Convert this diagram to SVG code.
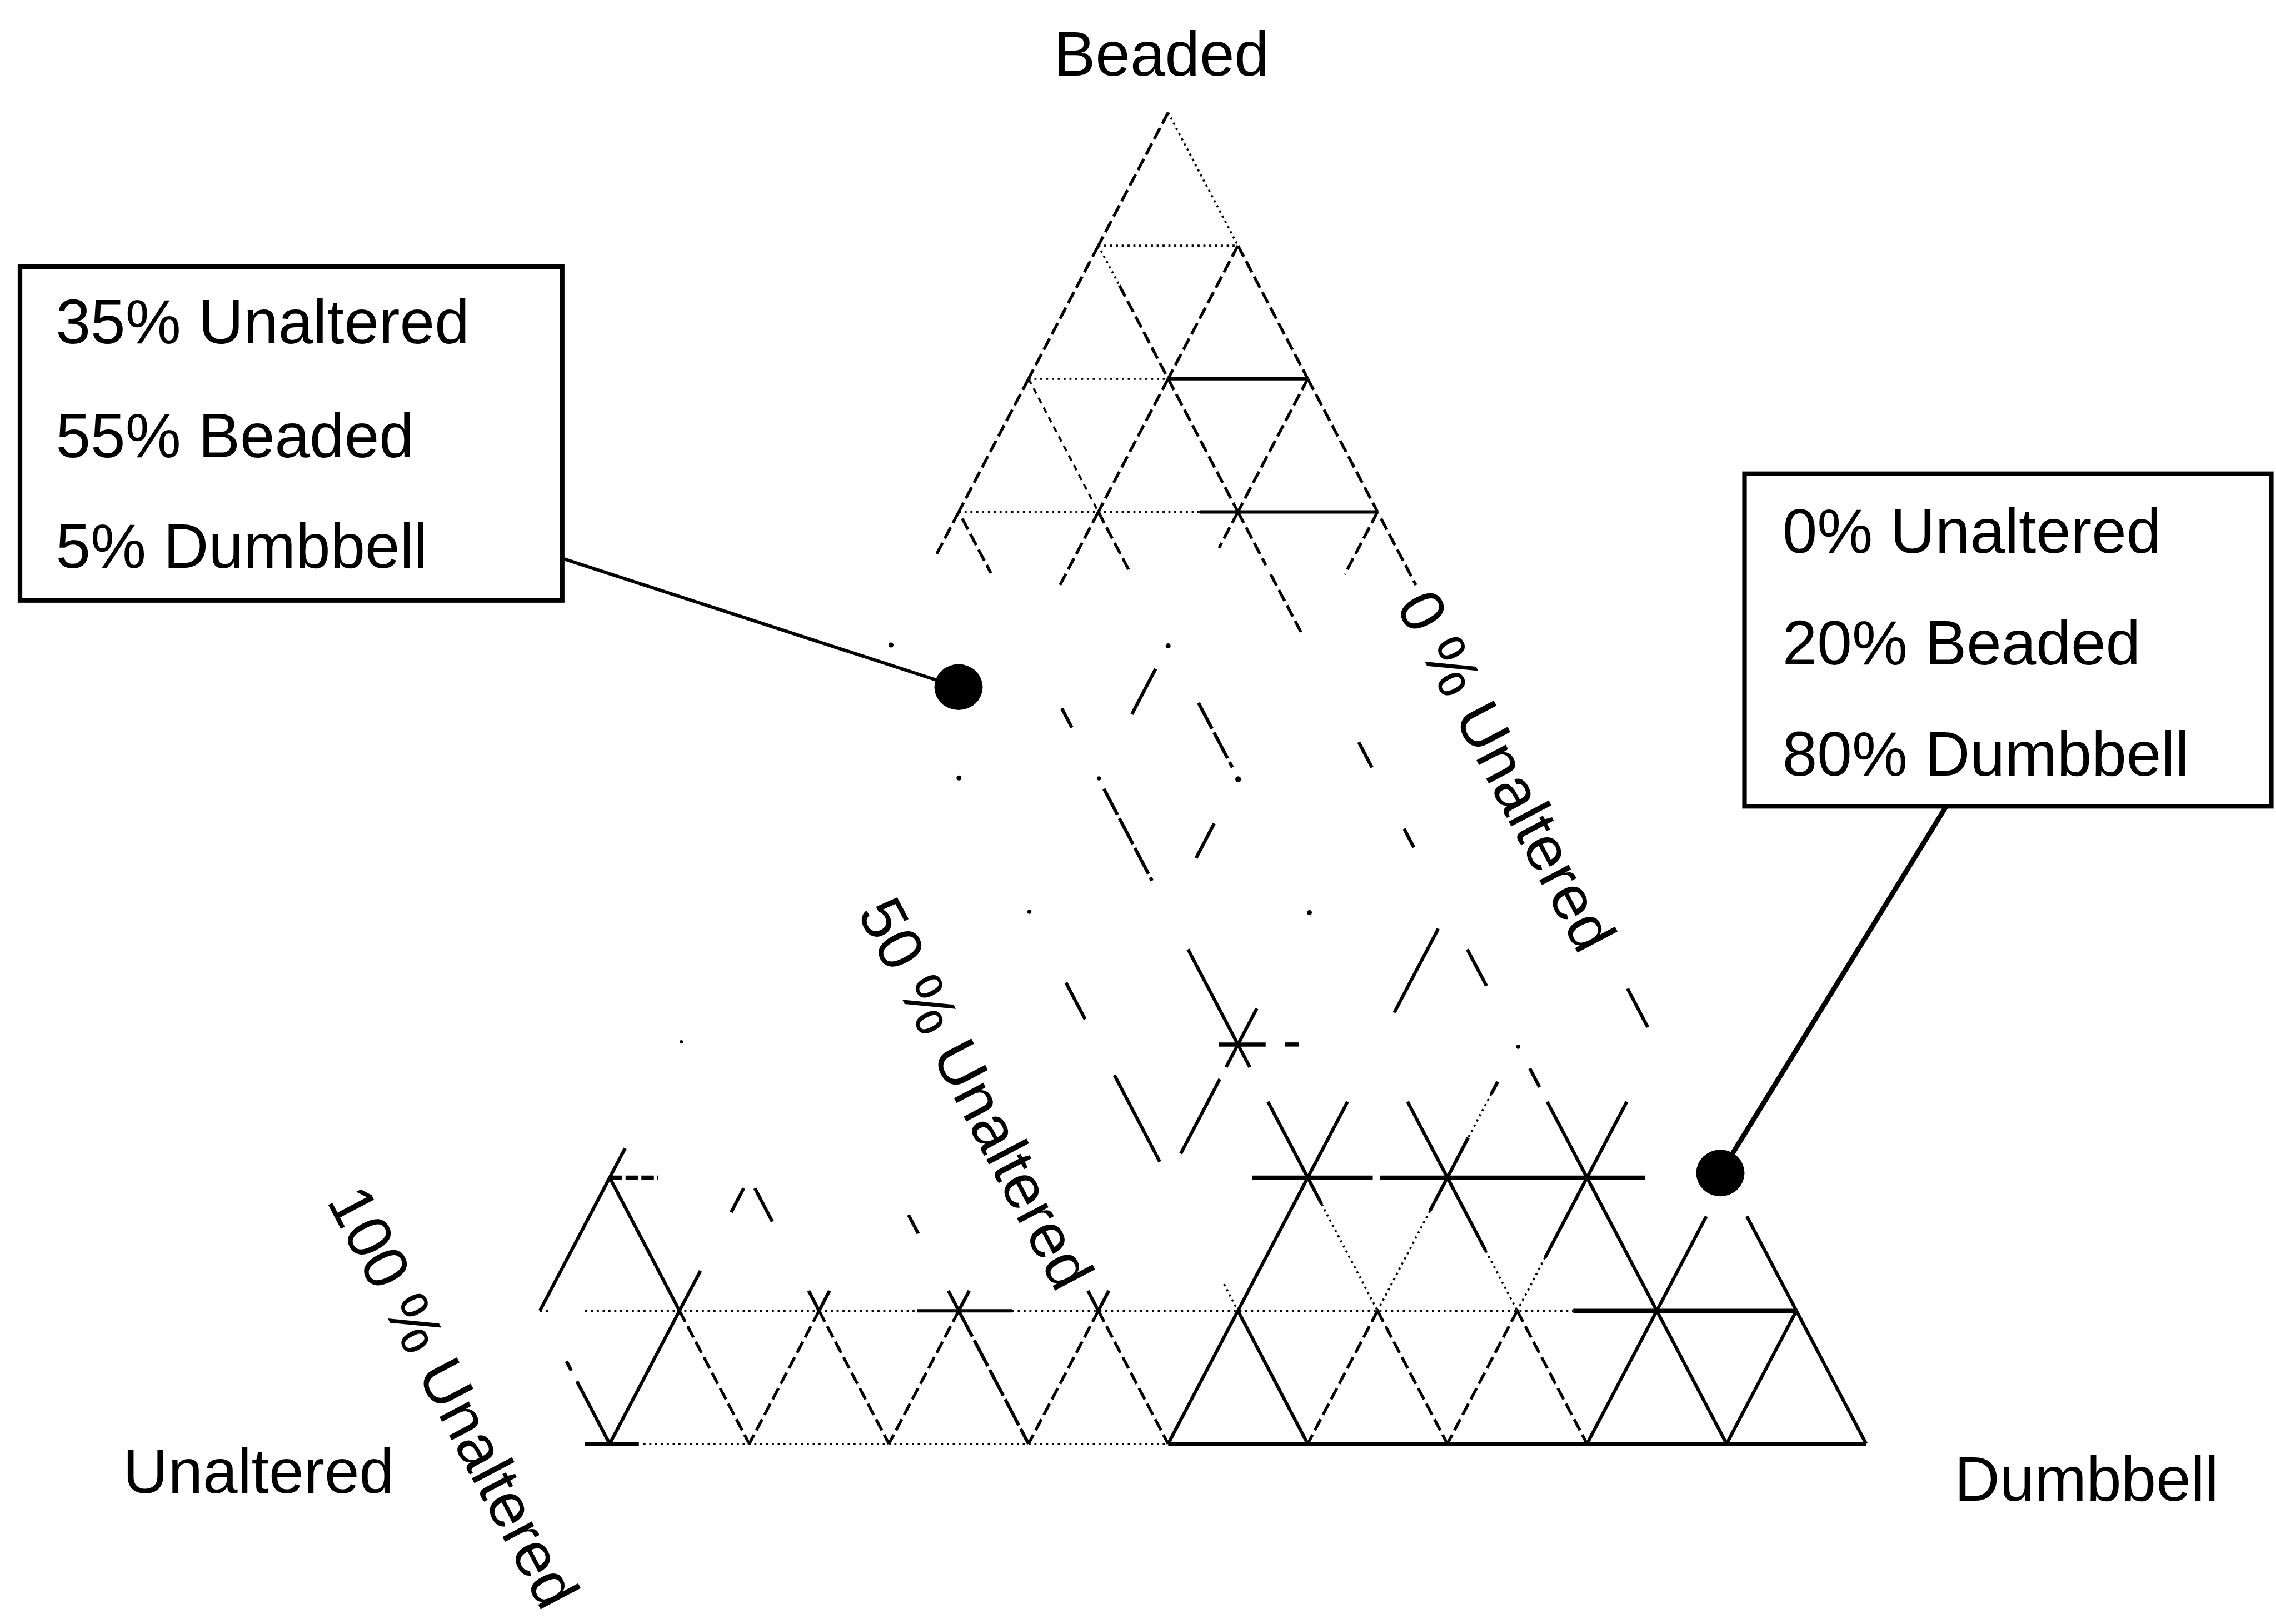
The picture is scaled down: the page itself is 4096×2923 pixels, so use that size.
<svg xmlns="http://www.w3.org/2000/svg" width="4096" height="2923" viewBox="0 0 4096 2923">
<defs>
<style>
.s{stroke:#000;stroke-width:8;fill:none}
.d{stroke:#000;stroke-width:7;fill:none;stroke-dasharray:30 12}
.t{stroke:#000;stroke-width:5;fill:none;stroke-dasharray:5 9}
.l{stroke:#000;stroke-width:5;fill:none;stroke-dasharray:14 12}
.b{stroke:#000;stroke-width:8;fill:none;stroke-dasharray:70 10}
.h{stroke:#000;stroke-width:10;fill:none}
.txt{font-family:"Liberation Sans",Arial,sans-serif;font-size:150px;fill:#000}
.box{fill:#fff;stroke:#000;stroke-width:11}
</style>
</defs>
<rect width="4096" height="2923" fill="#fff"/>
<g transform="scale(0.75)">
<g id="grid">
<line class="d" x1="2803" y1="270" x2="2635.5" y2="589.5"/>
<line class="t" x1="2803" y1="270" x2="2970.5" y2="589.5"/>
<line class="t" x1="2635.5" y1="589.5" x2="2970.5" y2="589.5"/>
<line class="d" x1="2635.5" y1="589.5" x2="2468" y2="909"/>
<line class="t" x1="2635.5" y1="589.5" x2="2686" y2="685"/>
<line class="d" x1="2686" y1="685" x2="2803" y2="909"/>
<line class="d" x1="2970.5" y1="589.5" x2="2803" y2="909"/>
<line class="d" x1="2970.5" y1="589.5" x2="3138" y2="909"/>
<line class="t" x1="2468" y1="909" x2="2803" y2="909"/>
<line class="s" x1="2803" y1="909" x2="3138" y2="909"/>
<line class="d" x1="2468" y1="909" x2="2300.5" y2="1228.5"/>
<line class="l" x1="2468" y1="909" x2="2635.5" y2="1228.5"/>
<line class="d" x1="2803" y1="909" x2="2635.5" y2="1228.5"/>
<line class="d" x1="2803" y1="909" x2="2970.5" y2="1228.5"/>
<line class="d" x1="3138" y1="909" x2="2970.5" y2="1228.5"/>
<line class="d" x1="3138" y1="909" x2="3305.5" y2="1228.5"/>
<line class="t" x1="2300.5" y1="1228.5" x2="2635.5" y2="1228.5"/>
<line class="t" x1="2635.5" y1="1228.5" x2="2880" y2="1228.5"/>
<line class="s" x1="2880" y1="1228.5" x2="2970.5" y2="1228.5"/>
<line class="s" x1="2970.5" y1="1228.5" x2="3305.5" y2="1228.5"/>
<line class="d" x1="2300.5" y1="1228.5" x2="2246.9" y2="1330.7"/>
<line class="d" x1="2308.9" y1="1244.5" x2="2377.6" y2="1375.5"/>
<line class="d" x1="2635.5" y1="1228.5" x2="2541.7" y2="1407.4"/>
<line class="d" x1="2635.5" y1="1228.5" x2="2710.9" y2="1372.3"/>
<line class="d" x1="2970.5" y1="1228.5" x2="2925.3" y2="1314.8"/>
<line class="d" x1="2970.5" y1="1228.5" x2="3037.5" y2="1356.3"/>
<line class="d" x1="3049.2" y1="1378.7" x2="3124.6" y2="1522.4"/>
<line class="d" x1="3305.5" y1="1228.5" x2="3226.8" y2="1378.7"/>
<line class="d" x1="3313.9" y1="1244.5" x2="3397.6" y2="1404.2"/>
<line class="s" x1="2772.9" y1="1605.5" x2="2715.9" y2="1714.1"/>
<line class="s" x1="2547.7" y1="1700.1" x2="2571.9" y2="1746.1"/>
<line class="b" x1="2875.9" y1="1687" x2="2957.1" y2="1841.9"/>
<line class="s" x1="3260.3" y1="1781.2" x2="3292.1" y2="1841.9"/>
<line class="b" x1="2648.9" y1="1893.1" x2="2764.5" y2="2113.5"/>
<line class="s" x1="2913.5" y1="1976.1" x2="2870" y2="2059.2"/>
<line class="s" x1="3369.2" y1="1988.9" x2="3392.6" y2="2033.6"/>
<line class="s" x1="2557.6" y1="2357.9" x2="2603.7" y2="2445.8"/>
<line class="s" x1="2850.7" y1="2278.1" x2="2970.5" y2="2506.5"/>
<line class="s" x1="3015.7" y1="2420.2" x2="2970.5" y2="2506.5"/>
<line class="s" x1="3451.2" y1="2228.5" x2="3345.7" y2="2429.8"/>
<line class="s" x1="3520.7" y1="2278.1" x2="3566.8" y2="2365.9"/>
<line class="s" x1="3905.2" y1="2372.3" x2="3953.7" y2="2465"/>
<line class="h" x1="2924" y1="2506.5" x2="3037" y2="2506.5"/>
<line class="h" x1="3084" y1="2506.5" x2="3116" y2="2506.5"/>
<line class="s" x1="1499.9" y1="2755.7" x2="1463" y2="2826"/>
<line class="s" x1="2674" y1="2580" x2="2782.9" y2="2787.7"/>
<line class="s" x1="2970.5" y1="2506.5" x2="2942" y2="2560.8"/>
<line class="s" x1="2927" y1="2589.6" x2="2833.2" y2="2768.5"/>
<line class="s" x1="2970.5" y1="2506.5" x2="2999" y2="2560.8"/>
<line class="s" x1="3042.5" y1="2643.9" x2="3138" y2="2826"/>
<line class="s" x1="3233.5" y1="2643.9" x2="3138" y2="2826"/>
<line class="s" x1="3377.5" y1="2643.9" x2="3473" y2="2826"/>
<line class="s" x1="3593.6" y1="2596" x2="3578.5" y2="2624.7"/>
<line class="t" x1="3578.5" y1="2624.7" x2="3523" y2="2730"/>
<line class="s" x1="3523" y1="2730" x2="3473" y2="2826"/>
<line class="s" x1="3670.7" y1="2564" x2="3694.1" y2="2608.7"/>
<line class="s" x1="3712.5" y1="2643.9" x2="3808" y2="2826"/>
<line class="s" x1="3903.5" y1="2643.9" x2="3808" y2="2826"/>
<line class="h" x1="1463" y1="2826" x2="1580" y2="2826" stroke-dasharray="30 8"/>
<line class="h" x1="3005" y1="2826" x2="3294" y2="2826"/>
<line class="h" x1="3311" y1="2826" x2="3948" y2="2826"/>
<line class="s" x1="1463" y1="2826" x2="1295.5" y2="3145.5"/>
<line class="s" x1="1463" y1="2826" x2="1630.5" y2="3145.5"/>
<line class="s" x1="1784.6" y1="2851.6" x2="1754.5" y2="2909.1"/>
<line class="s" x1="1680.8" y1="3049.7" x2="1630.5" y2="3145.5"/>
<line class="s" x1="1811.4" y1="2851.6" x2="1853.3" y2="2931.4"/>
<line class="s" x1="1940.4" y1="3097.6" x2="1965.5" y2="3145.5"/>
<line class="s" x1="1990.6" y1="3097.6" x2="1965.5" y2="3145.5"/>
<line class="s" x1="2179.9" y1="2915.5" x2="2203.4" y2="2960.2"/>
<line class="s" x1="2275.4" y1="3097.6" x2="2300.5" y2="3145.5"/>
<line class="s" x1="2325.6" y1="3097.6" x2="2300.5" y2="3145.5"/>
<line class="s" x1="2610.4" y1="3097.6" x2="2635.5" y2="3145.5"/>
<line class="s" x1="2660.6" y1="3097.6" x2="2635.5" y2="3145.5"/>
<line class="t" x1="2937" y1="3081.6" x2="2970.5" y2="3145.5"/>
<line class="s" x1="3138" y1="2826" x2="2970.5" y2="3145.5"/>
<line class="s" x1="3138" y1="2826" x2="3171.5" y2="2889.9"/>
<line class="t" x1="3171.5" y1="2889.9" x2="3305.5" y2="3145.5"/>
<line class="s" x1="3473" y1="2826" x2="3431.1" y2="2905.9"/>
<line class="t" x1="3431.1" y1="2905.9" x2="3305.5" y2="3145.5"/>
<line class="s" x1="3473" y1="2826" x2="3565.1" y2="3001.7"/>
<line class="t" x1="3565.1" y1="3001.7" x2="3640.5" y2="3145.5"/>
<line class="s" x1="3808" y1="2826" x2="3707.5" y2="3017.7"/>
<line class="t" x1="3707.5" y1="3017.7" x2="3640.5" y2="3145.5"/>
<line class="s" x1="3808" y1="2826" x2="3975.5" y2="3145.5"/>
<line class="s" x1="4094.4" y1="2918.7" x2="3975.5" y2="3145.5"/>
<line class="s" x1="4191.6" y1="2918.7" x2="4310.5" y2="3145.5"/>
<line class="t" x1="1296" y1="3145.5" x2="1322" y2="3145.5"/>
<line class="t" x1="1404" y1="3145.5" x2="1965.5" y2="3145.5"/>
<line class="t" x1="1965.5" y1="3145.5" x2="2200" y2="3145.5"/>
<line class="s" x1="2200" y1="3145.5" x2="2428" y2="3145.5"/>
<line class="t" x1="2428" y1="3145.5" x2="3775" y2="3145.5"/>
<line class="h" x1="3775" y1="3145.5" x2="4310.5" y2="3145.5"/>
<line class="s" x1="1359.2" y1="3266.9" x2="1370.9" y2="3289.3"/>
<line class="s" x1="1384.3" y1="3314.8" x2="1463" y2="3465"/>
<line class="s" x1="1630.5" y1="3145.5" x2="1463" y2="3465"/>
<line class="d" x1="1630.5" y1="3145.5" x2="1798" y2="3465"/>
<line class="d" x1="1965.5" y1="3145.5" x2="1798" y2="3465"/>
<line class="d" x1="1965.5" y1="3145.5" x2="2133" y2="3465"/>
<line class="d" x1="2300.5" y1="3145.5" x2="2133" y2="3465"/>
<line class="b" x1="2300.5" y1="3145.5" x2="2468" y2="3465"/>
<line class="d" x1="2635.5" y1="3145.5" x2="2468" y2="3465"/>
<line class="d" x1="2635.5" y1="3145.5" x2="2803" y2="3465"/>
<line class="s" x1="2970.5" y1="3145.5" x2="2803" y2="3465"/>
<line class="s" x1="2970.5" y1="3145.5" x2="3138" y2="3465"/>
<line class="d" x1="3305.5" y1="3145.5" x2="3138" y2="3465"/>
<line class="d" x1="3305.5" y1="3145.5" x2="3473" y2="3465"/>
<line class="d" x1="3640.5" y1="3145.5" x2="3473" y2="3465"/>
<line class="d" x1="3640.5" y1="3145.5" x2="3808" y2="3465"/>
<line class="s" x1="3975.5" y1="3145.5" x2="3808" y2="3465"/>
<line class="s" x1="3975.5" y1="3145.5" x2="4143" y2="3465"/>
<line class="s" x1="4310.5" y1="3145.5" x2="4143" y2="3465"/>
<line class="s" x1="4310.5" y1="3145.5" x2="4478" y2="3465"/>
<line class="h" x1="1404" y1="3465" x2="1533" y2="3465"/>
<line class="t" x1="1544" y1="3465" x2="2803" y2="3465"/>
<line class="h" x1="2803" y1="3465" x2="4478" y2="3465"/>
<g fill="#000">
<circle cx="2138" cy="1548" r="6"/><circle cx="2803" cy="1550" r="6"/>
<circle cx="2301" cy="1867" r="6"/><circle cx="2637" cy="1868" r="5"/>
<circle cx="2971" cy="1870" r="7"/><circle cx="2470" cy="2188" r="5"/>
<circle cx="3142" cy="2190" r="6"/><circle cx="1635" cy="2500" r="4"/>
<circle cx="3643" cy="2512" r="5"/>
</g>
</g>
<g id="axis-labels" class="txt">
<text id="label-beaded" x="2787" y="181" text-anchor="middle">Beaded</text>
<text id="label-unaltered" x="295" y="3583">Unaltered</text>
<text id="label-dumbbell" x="4690" y="3601">Dumbbell</text>
<text transform="translate(3615,1850) rotate(62.3)" text-anchor="middle" y="52">0 % Unaltered</text>
<text transform="translate(2342,2624) rotate(62.3)" text-anchor="middle" y="52">50 % Unaltered</text>
<text transform="translate(1088,3352) rotate(62.3)" text-anchor="middle" y="52">100 % Unaltered</text>
</g>
<g id="connectors">
<line x1="1349" y1="1340" x2="2262" y2="1637" stroke="#000" stroke-width="8"/>
<line x1="4670" y1="1935" x2="4150" y2="2780" stroke="#000" stroke-width="12"/>
</g>
<g id="point-1">
<ellipse cx="2300" cy="1649" rx="58" ry="55" fill="#000"/>
</g>
<g id="point-2">
<ellipse cx="4128" cy="2815" rx="58" ry="56" fill="#000"/>
</g>
<g id="box-1">
<rect class="box" x="48" y="640" width="1301" height="801"/>
<text class="txt" x="134" y="824">35% Unaltered</text>
<text class="txt" x="134" y="1097">55% Beaded</text>
<text class="txt" x="134" y="1363">5% Dumbbell</text>
</g>
<g id="box-2">
<rect class="box" x="4186" y="1137" width="1264" height="798"/>
<text class="txt" x="4277" y="1327">0% Unaltered</text>
<text class="txt" x="4277" y="1594">20% Beaded</text>
<text class="txt" x="4277" y="1861">80% Dumbbell</text>
</g>
</g>
</svg>
